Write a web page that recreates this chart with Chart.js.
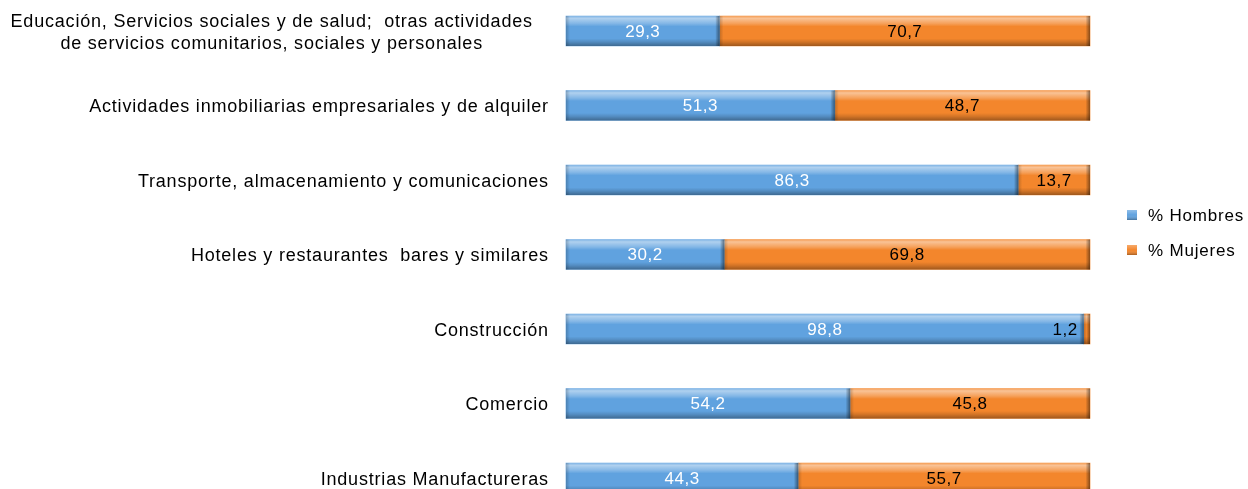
<!DOCTYPE html>
<html><head><meta charset="utf-8">
<script src="https://cdn.jsdelivr.net/npm/chart.js@4/dist/chart.umd.min.js"></script>
<style>html,body{margin:0;padding:0;background:#fff;overflow:hidden}#wrap{width:1248px;height:489px;position:relative}</style>
</head><body><div id="wrap"><canvas id="c"></canvas></div>
<script>
const categories = [
  ["Educación, Servicios sociales y de salud;  otras actividades", "de servicios comunitarios, sociales y personales"],
  "Actividades inmobiliarias empresariales y de alquiler",
  "Transporte, almacenamiento y comunicaciones",
  "Hoteles y restaurantes  bares y similares",
  "Construcción",
  "Comercio",
  "Industrias Manufactureras"
];
const seriesNames = ["% Hombres", "% Mujeres"];
const hombres = [29.3, 51.3, 86.3, 30.2, 98.8, 54.2, 44.3];
const mujeres = [70.7, 48.7, 13.7, 69.8, 1.2, 45.8, 55.7];
const colors = ["#60a2df", "#f3862c"];
const labelColors = ["#ffffff", "#000000"];
const FONT = "'Liberation Sans', Arial, sans-serif";

const bevel = {
  id: 'bevel',
  afterDatasetsDraw(chart) {
    const ctx = chart.ctx;
    chart.data.datasets.forEach((ds, di) => {
      const meta = chart.getDatasetMeta(di);
      meta.data.forEach(el => {
        const l = Math.min(el.x, el.base), r = Math.max(el.x, el.base);
        const t = el.y - el.height / 2, b = el.y + el.height / 2;
        const w = r - l, h = b - t;
        if (w <= 0) return;
        ctx.save();
        const g = ctx.createLinearGradient(0, t, 0, b);
        g.addColorStop(0, 'rgba(255,255,255,0.2)');
        g.addColorStop(0.08, 'rgba(255,255,255,0.5)');
        g.addColorStop(0.25, 'rgba(255,255,255,0.22)');
        g.addColorStop(0.35, 'rgba(255,255,255,0)');
        g.addColorStop(0.75, 'rgba(0,0,0,0)');
        g.addColorStop(0.86, 'rgba(0,0,0,0.13)');
        g.addColorStop(1, 'rgba(0,0,0,0.35)');
        ctx.fillStyle = g;
        ctx.fillRect(l, t, w, h);
        const e = Math.min(4, w / 2);
        const gr = ctx.createLinearGradient(r - e, 0, r, 0);
        gr.addColorStop(0, 'rgba(0,0,0,0.05)');
        gr.addColorStop(1, 'rgba(0,0,0,0.45)');
        ctx.fillStyle = gr;
        ctx.fillRect(r - e, t, e, h);
        const gl = ctx.createLinearGradient(l, 0, l + e, 0);
        gl.addColorStop(0, 'rgba(0,0,0,0.2)');
        gl.addColorStop(1, 'rgba(0,0,0,0)');
        ctx.fillStyle = gl;
        ctx.fillRect(l, t, e, h);
        ctx.restore();
      });
    });
  }
};

const valueLabels = {
  id: 'valueLabels',
  afterDatasetsDraw(chart) {
    const ctx = chart.ctx;
    ctx.save();
    ctx.font = "17px " + FONT;
    ctx.letterSpacing = '0.5px';
    ctx.textBaseline = 'middle';
    chart.data.datasets.forEach((ds, di) => {
      const meta = chart.getDatasetMeta(di);
      meta.data.forEach((el, i) => {
        const txt = ds.data[i].toFixed(1).replace('.', ',');
        const l = Math.min(el.x, el.base), r = Math.max(el.x, el.base);
        const tw = ctx.measureText(txt).width;
        ctx.fillStyle = labelColors[di];
        ctx.textAlign = 'left';
        if (tw + 4 > r - l) {
          ctx.fillText(txt, l - 6 - tw, el.y + 1);
        } else {
          ctx.fillText(txt, (l + r) / 2 - tw / 2, el.y + 1);
        }
      });
    });
    ctx.restore();
  }
};

const categoryLabels = {
  id: 'categoryLabels',
  afterDraw(chart) {
    const ctx = chart.ctx;
    const scale = chart.scales.y;
    ctx.save();
    ctx.font = "18px " + FONT;
    ctx.letterSpacing = '0.8px';
    ctx.fillStyle = '#000';
    ctx.textBaseline = 'middle';
    ctx.textAlign = 'left';
    const lineH = 22;
    chart.data.labels.forEach((lab, i) => {
      const lines = Array.isArray(lab) ? lab : [lab];
      const right = lines.length > 1 ? 532 : 548;
      const widths = lines.map(s => ctx.measureText(s).width - 0.8);
      const bw = Math.max(...widths);
      const yc = scale.getPixelForTick(i) + 2;
      const y0 = yc - (lines.length - 1) * lineH / 2;
      lines.forEach((s, k) => {
        const x = right - bw + (bw - widths[k]) / 2;
        ctx.fillText(s, x, y0 + k * lineH);
      });
    });
    ctx.restore();
  }
};

const customLegend = {
  id: 'customLegend',
  afterDraw(chart) {
    const ctx = chart.ctx;
    ctx.save();
    ctx.font = "17px " + FONT;
    ctx.letterSpacing = '0.8px';
    ctx.textBaseline = 'middle';
    ctx.textAlign = 'left';
    const ys = [215, 250];
    chart.data.datasets.forEach((ds, di) => {
      const y = ys[di];
      ctx.fillStyle = colors[di];
      ctx.fillRect(1127, y - 5, 10, 10);
      const g = ctx.createLinearGradient(0, y - 5, 0, y + 5);
      g.addColorStop(0, 'rgba(255,255,255,0.3)');
      g.addColorStop(0.5, 'rgba(255,255,255,0)');
      g.addColorStop(1, 'rgba(0,0,0,0.3)');
      ctx.fillStyle = g;
      ctx.fillRect(1127, y - 5, 10, 10);
      ctx.fillStyle = '#000';
      ctx.fillText(ds.label, 1148, y + 1);
    });
    ctx.restore();
  }
};

new Chart(document.getElementById('c'), {
  type: 'bar',
  data: {
    labels: categories,
    datasets: [
      { label: seriesNames[0], data: hombres, backgroundColor: colors[0], clip: false },
      { label: seriesNames[1], data: mujeres, backgroundColor: colors[1], clip: false }
    ]
  },
  options: {
    indexAxis: 'y',
    responsive: true,
    maintainAspectRatio: false,
    animation: false,
    events: [],
    datasets: { bar: { barThickness: 30 } },
    layout: { padding: { top: 31, bottom: 11, left: 0, right: 158 } },
    plugins: { legend: { display: false }, tooltip: { enabled: false } },
    scales: {
      x: { stacked: true, min: 0, max: 100, display: false },
      y: {
        stacked: true,
        offset: false,
        grid: { display: false, drawTicks: false },
        border: { display: false },
        afterFit(scale) { scale.width = 566; scale.paddingTop = 0; scale.paddingBottom = 0; },
        ticks: { display: false, autoSkip: false }
      }
    }
  },
  plugins: [bevel, valueLabels, categoryLabels, customLegend]
});
</script>
</body></html>
